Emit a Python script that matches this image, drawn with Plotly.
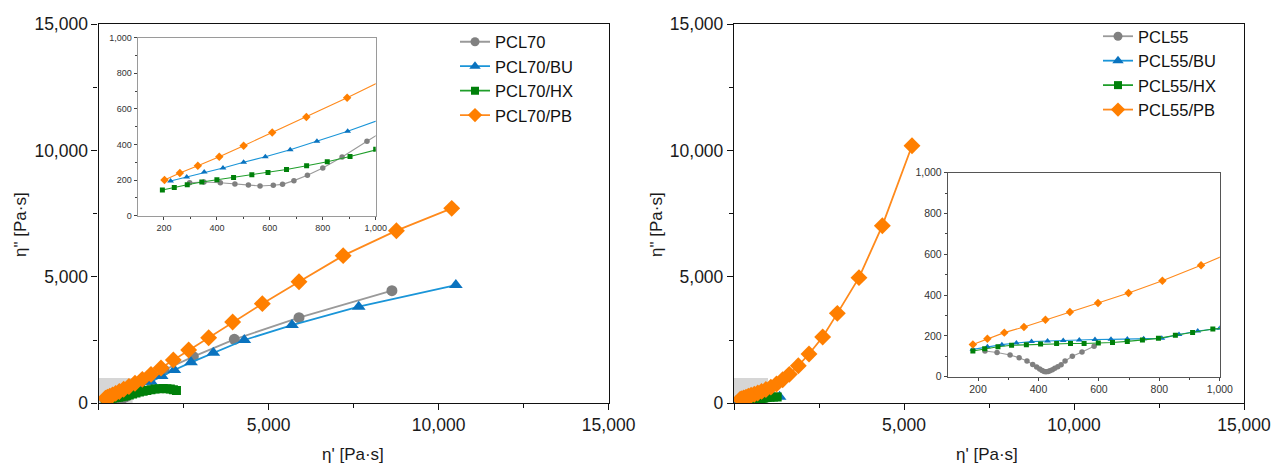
import plotly.graph_objects as go

# ---------------- data ----------------
# Left panel: PCL70 series
pcl70_x = [297, 351, 413, 468, 519, 563, 613, 648, 691, 742, 800, 873, 967, 1180, 1500, 1927, 2786, 3992, 5894, 8627]
pcl70_y = [185, 189, 185, 178, 172, 167, 171, 176, 197, 227, 268, 330, 418, 618, 919, 1318, 1845, 2531, 3389, 4457]

pcl70bu_x = [225, 286, 352, 423, 501, 583, 677, 778, 894, 1045, 1245, 1541, 1855, 2227, 2718, 3374, 4286, 5688, 7651, 10507]
pcl70bu_y = [195, 217, 245, 268, 300, 331, 371, 418, 474, 555, 680, 856, 1080, 1318, 1621, 2004, 2505, 3098, 3824, 4681]

pcl70hx_x = [194, 239, 288, 343, 400, 463, 532, 593, 663, 739, 817, 903, 1000, 1100, 1200, 1310, 1420, 1540, 1660, 1780, 1900, 2010, 2110, 2200, 2290]
pcl70hx_y = [144, 159, 174, 189, 202, 215, 230, 243, 260, 281, 303, 333, 373, 410, 445, 480, 510, 540, 565, 580, 585, 578, 562, 540, 505]

pcl70pb_x = [202, 260, 328, 409, 501, 609, 738, 892, 1070, 1286, 1541, 1835, 2198, 2649, 3237, 3943, 4816, 5894, 7193, 8759, 10386]
pcl70pb_y = [200, 240, 281, 331, 393, 468, 554, 663, 791, 948, 1146, 1397, 1713, 2109, 2597, 3217, 3943, 4813, 5843, 6832, 7715]

# Right panel: PCL55 series
pcl55_x = [223, 263, 306, 336, 362, 381, 394, 404, 412, 419, 425, 432, 438, 446, 454, 464, 475, 488, 512, 544, 584]
pcl55_y = [126, 119, 106, 93, 77, 60, 47, 38, 31, 26, 24, 26, 29, 34, 41, 49, 59, 77, 100, 121, 149]

pcl55bu_x = [183, 231, 279, 327, 377, 430, 482, 535, 587, 640, 694, 748, 808, 865, 927, 1000, 1150, 1340]
pcl55bu_y = [134, 147, 157, 165, 172, 175, 178, 180, 182, 183, 185, 186, 188, 207, 224, 237, 248, 258]

pcl55hx_x = [183, 222, 266, 311, 360, 407, 460, 506, 551, 598, 645, 694, 744, 797, 853, 910, 977, 1060, 1160, 1270]
pcl55hx_y = [126, 137, 147, 154, 157, 160, 163, 163, 163, 165, 168, 173, 180, 188, 203, 217, 234, 240, 246, 252]

pcl55pb_x = [183, 231, 287, 352, 423, 504, 597, 698, 810, 938, 1085, 1250, 1430, 1627, 1892, 2206, 2608, 3039, 3676, 4363, 5235]
pcl55pb_y = [158, 186, 216, 244, 279, 317, 361, 410, 470, 546, 640, 765, 930, 1146, 1489, 1951, 2624, 3560, 4972, 7030, 10195]

main_ticks = [0, 5000, 10000, 15000]
main_minor = [2500, 7500, 12500]
inset_xticks = [200, 400, 600, 800, 1000]
inset_yticks = [0, 200, 400, 600, 800, 1000]

# ---------------- styles ----------------
styles = {
    "gray":   dict(line="#9a9a9a", marker="#808080", symbol="circle"),
    "blue":   dict(line="#1a95d8", marker="#0a73bf", symbol="triangle-up"),
    "green":  dict(line="#1f9e2a", marker="#00800a", symbol="square"),
    "orange": dict(line="#ff8a1c", marker="#ff7f00", symbol="diamond"),
}
main_size = {"circle": 11, "triangle-up": 12, "square": 9, "diamond": 13}
inset_size = {"circle": 5.5, "triangle-up": 6, "square": 5, "diamond": 6.5}
legend_size = {"circle": 9, "triangle-up": 10, "square": 8, "diamond": 11}

fig = go.Figure()

def add_series(name, xs, ys, style, xa, ya, xi, yi, legend):
    st = styles[style]
    sym = st["symbol"]
    fig.add_trace(go.Scatter(
        x=xs, y=ys, mode="lines+markers", name=name, legend=legend,
        line=dict(color=st["line"], width=1.8),
        marker=dict(symbol=sym, size=main_size[sym], color=st["marker"], line=dict(width=0)),
        xaxis=xa, yaxis=ya, showlegend=False))
    fig.add_trace(go.Scatter(
        x=[None], y=[None], mode="lines+markers", name=name, legend=legend,
        line=dict(color=st["line"], width=1.8),
        marker=dict(symbol=sym, size=legend_size[sym], color=st["marker"], line=dict(width=0)),
        xaxis=xa, yaxis=ya, showlegend=True))
    fig.add_trace(go.Scatter(
        x=xs, y=ys, mode="lines+markers", name=name,
        line=dict(color=st["line"], width=1.1),
        marker=dict(symbol=sym, size=inset_size[sym], color=st["marker"], line=dict(width=0)),
        xaxis=xi, yaxis=yi, showlegend=False))

add_series("PCL70", pcl70_x, pcl70_y, "gray", "x", "y", "x3", "y3", "legend")
add_series("PCL70/BU", pcl70bu_x, pcl70bu_y, "blue", "x", "y", "x3", "y3", "legend")
add_series("PCL70/HX", pcl70hx_x, pcl70hx_y, "green", "x", "y", "x3", "y3", "legend")
add_series("PCL70/PB", pcl70pb_x, pcl70pb_y, "orange", "x", "y", "x3", "y3", "legend")

add_series("PCL55", pcl55_x, pcl55_y, "gray", "x2", "y2", "x4", "y4", "legend2")
add_series("PCL55/BU", pcl55bu_x, pcl55bu_y, "blue", "x2", "y2", "x4", "y4", "legend2")
add_series("PCL55/HX", pcl55hx_x, pcl55hx_y, "green", "x2", "y2", "x4", "y4", "legend2")
add_series("PCL55/PB", pcl55pb_x, pcl55pb_y, "orange", "x2", "y2", "x4", "y4", "legend2")

W, H = 1274, 464
def px(v): return v / W
def py(v): return (H - v) / H

font_main = "Liberation Sans, Arial, sans-serif"

def main_axis(domain, labels_zero=True):
    return dict(
        domain=domain, range=[0, 15000], showgrid=False, zeroline=False,
        showline=True, mirror=True, linecolor="#111", linewidth=1.3,
        ticks="outside", ticklen=6, tickwidth=1.2, tickcolor="#111",
        tickvals=main_ticks,
        ticktext=(["0", "5,000", "10,000", "15,000"] if labels_zero else ["", "5,000", "10,000", "15,000"]),
        tickfont=dict(family=font_main, size=17.5, color="#1a1a1a"),
        minor=dict(tickvals=main_minor, ticks="outside", ticklen=4, tickwidth=1.1, tickcolor="#111"),
        fixedrange=True, automargin=False,
    )

def inset_axis(domain, is_x, lc, fsize):
    vals = inset_xticks if is_x else inset_yticks
    return dict(
        domain=domain, range=[100, 1000] if is_x else [0, 1000], showgrid=False, zeroline=False,
        showline=True, mirror=True, linecolor=lc, linewidth=1,
        ticks="outside", ticklen=3, tickwidth=1, tickcolor="#444",
        tickvals=vals, ticktext=[f"{v:,}" for v in vals],
        tickfont=dict(family=font_main, size=fsize, color="#333"),
        minor=dict(tickvals=([300, 500, 700, 900] if is_x else [100, 300, 500, 700, 900]),
                   ticks="outside", ticklen=2, tickwidth=1, tickcolor="#444"),
        fixedrange=True, automargin=False,
    )

main_y_dom = [py(403.3), py(24.3)]
legend_font = dict(family=font_main, size=16.5, color="#111")
title_font = dict(family=font_main, size=17, color="#1a1a1a")
fig.update_layout(
    width=W, height=H, margin=dict(l=0, r=0, t=0, b=0, autoexpand=False),
    paper_bgcolor="white", plot_bgcolor="white",
    xaxis=dict(**main_axis([px(98.6), px(608.6)], False), anchor="y"),
    yaxis=dict(**main_axis(main_y_dom, True), anchor="x"),
    xaxis2=dict(**main_axis([px(734), px(1244)], False), anchor="y2"),
    yaxis2=dict(**main_axis(main_y_dom, True), anchor="x2"),
    xaxis3=dict(**inset_axis([px(137.5), px(375.7)], True, "#9a9a9a", 9), anchor="y3"),
    yaxis3=dict(**inset_axis([py(215.7), py(37.7)], False, "#9a9a9a", 9), anchor="x3"),
    xaxis4=dict(**inset_axis([px(947.8), px(1219.8)], True, "#555", 10.5), anchor="y4"),
    yaxis4=dict(**inset_axis([py(376.7), py(172.7)], False, "#555", 10.5), anchor="x4"),
    legend=dict(x=px(455), y=py(24.5), xanchor="left", yanchor="top", font=legend_font,
                bgcolor="rgba(0,0,0,0)", tracegroupgap=0, itemwidth=30),
    legend2=dict(x=px(1098), y=py(19), xanchor="left", yanchor="top", font=legend_font,
                 bgcolor="rgba(0,0,0,0)", tracegroupgap=0, itemwidth=30),
    showlegend=True,
    shapes=[
        dict(type="rect", xref="x", yref="y", x0=0, x1=1000, y0=0, y1=1000,
             fillcolor="#d6d6d6", line=dict(width=0), layer="below"),
        dict(type="rect", xref="x2", yref="y2", x0=0, x1=1000, y0=0, y1=1000,
             fillcolor="#d6d6d6", line=dict(width=0), layer="below"),
    ],
    annotations=[
        dict(text="η' [Pa·s]", x=px(353), y=py(454), xref="paper", yref="paper",
             xanchor="center", yanchor="middle", showarrow=False, font=title_font),
        dict(text="η' [Pa·s]", x=px(987), y=py(454), xref="paper", yref="paper",
             xanchor="center", yanchor="middle", showarrow=False, font=title_font),
        dict(text='η" [Pa·s]', x=px(20), y=py(225), xref="paper", yref="paper", textangle=-90,
             xanchor="center", yanchor="middle", showarrow=False, font=title_font),
        dict(text='η" [Pa·s]', x=px(656), y=py(225), xref="paper", yref="paper", textangle=-90,
             xanchor="center", yanchor="middle", showarrow=False, font=title_font),
    ],
)

fig.write_html("out.html", config={"displayModeBar": False},
               post_script="document.body.style.margin='0';document.body.style.overflow='hidden';")
